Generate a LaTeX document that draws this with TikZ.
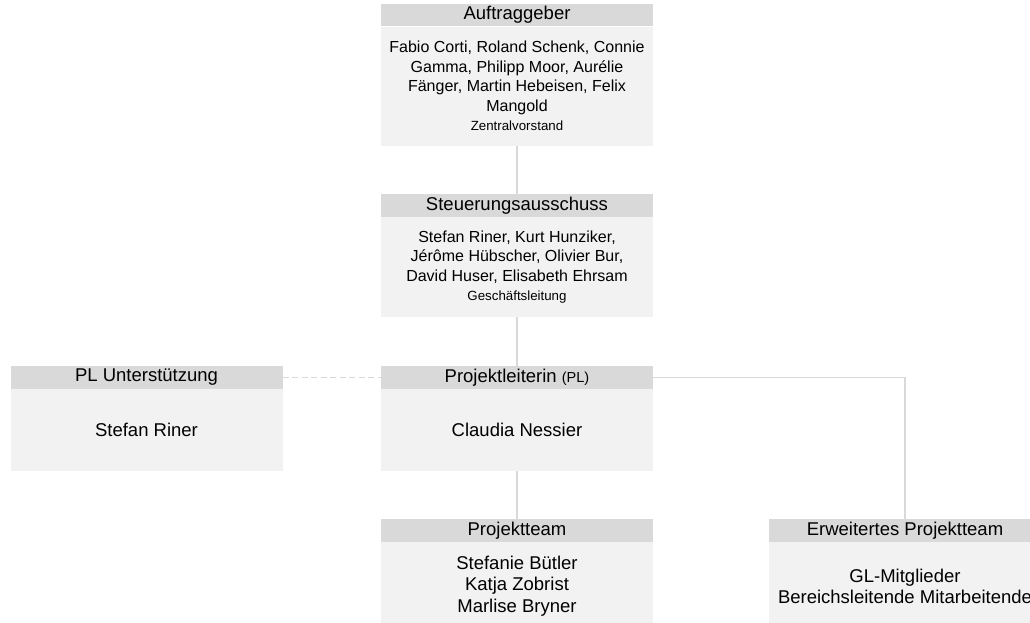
\documentclass[tikz,border=0pt]{standalone}
\usepackage{fontspec}
\setmainfont{Liberation Sans}
\definecolor{kopfgrau}{HTML}{D9D9D9}
\definecolor{feldgrau}{HTML}{F2F2F2}
\definecolor{liniengrau}{HTML}{D9D9D9}
\newcommand{\klein}{\fontsize{13.3}{15}\selectfont}
\begin{document}
\begin{tikzpicture}[x=1pt, y=-1pt,
    kopf/.style={fill=kopfgrau, minimum width=272pt, minimum height=22.5pt, inner sep=0pt, font=\fontsize{18.5}{21}\selectfont},
    feld/.style={fill=feldgrau, minimum width=272pt, inner sep=0pt, anchor=north, align=center, font=\fontsize{18.5}{21.5}\selectfont},
    dicht/.style={font=\fontsize{16}{19.5}\selectfont},
    linie/.style={draw=liniengrau, line width=1.2pt}]

    \useasboundingbox (0,0) rectangle (1030,622);

    % ==========================================
    % Auftraggeber
    % ==========================================
    \node[kopf] (auftr) at (517, 15) {Auftraggeber};
    \node[feld, dicht, minimum height=119pt] (auftrFeld) at (auftr.south) {Fabio Corti, Roland Schenk, Connie\\Gamma, Philipp Moor, Aurélie\\Fänger, Martin Hebeisen, Felix\\Mangold\\{\klein Zentralvorstand}};

    % ==========================================
    % Steuerungsausschuss
    % ==========================================
    \node[kopf] (steuer) at (517, 205.5) {Steuerungsausschuss};
    \node[feld, dicht, minimum height=100pt] (steuerFeld) at (steuer.south) {Stefan Riner, Kurt Hunziker,\\Jérôme Hübscher, Olivier Bur,\\David Huser, Elisabeth Ehrsam\\{\klein Geschäftsleitung}};

    % ==========================================
    % Projektleitung und Unterstuetzung
    % ==========================================
    \node[kopf] (plu) at (146.5, 377.5) {PL Unterstützung};
    \node[feld, minimum height=82pt] (pluFeld) at (plu.south) {Stefan Riner};

    \node[kopf] (pl) at (517, 377.5) {Projektleiterin {\fontsize{14.5}{16}\selectfont (PL)}};
    \node[feld, minimum height=82pt] (plFeld) at (pl.south) {Claudia Nessier};

    % ==========================================
    % Projektteams (unten abgeschnitten)
    % ==========================================
    \node[kopf] (team) at (517, 530.5) {Projektteam};
    \node[feld, minimum height=88pt] (teamFeld) at (team.south) {Stefanie Bütler\\Katja Zobrist\\Marlise Bryner};

    \node[kopf] (erw) at (905, 530.5) {Erweitertes Projektteam};
    \node[feld, minimum height=88pt] (erwFeld) at (erw.south) {GL-Mitglieder\\Bereichsleitende Mitarbeitende};

    % Verbindungen
    \draw[linie] (auftrFeld) -- (steuer);
    \draw[linie] (steuerFeld) -- (pl);
    \draw[linie] (plFeld) -- (team);
    \draw[linie] (pl.east) -| (erw.north);
    \draw[linie, dash pattern=on 6pt off 3.5pt] (plu.east) -- (pl.west);

\end{tikzpicture}
\end{document}
